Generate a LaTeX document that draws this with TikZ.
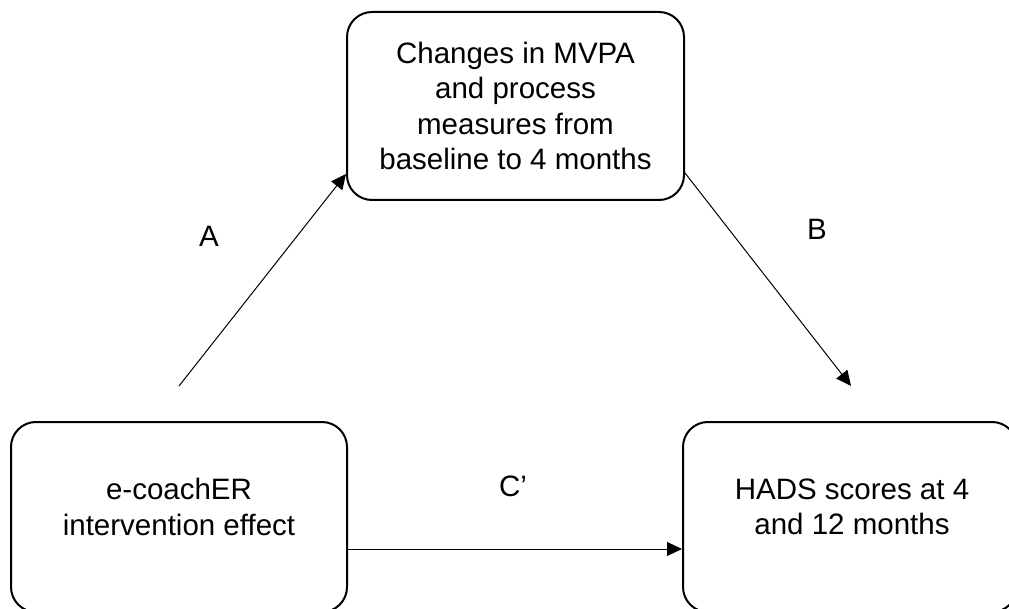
\documentclass[tikz,border=0pt]{standalone}
\usepackage{fontspec}
\setmainfont{Liberation Sans}
\usetikzlibrary{arrows.meta}

\begin{document}
\begin{tikzpicture}[x=1pt,y=-1pt,
    box/.style={draw,line width=2pt,rounded corners=25pt,
      minimum width=336pt,minimum height=190pt},
    boxtext/.style={align=center,font=\fontsize{29.5pt}{35.5pt}\selectfont},
    conn/.style={line width=1pt,-{Triangle[length=15pt,width=14pt]}},
    lab/.style={font=\fontsize{29.5pt}{35pt}\selectfont}]
        \useasboundingbox (0,0) rectangle (1009,609) ;
        %\draw[very thin,gray,step=50] (0,0) grid (1009,609) ;
        \node[box,boxtext,minimum width=337pt,minimum height=188pt] (change)
          at (515.5,106) {Changes in MVPA\\and process\\measures from\\baseline to 4 months} ;
        \node[box] (ecoach) at (179,517) {} ;
        \node[boxtext] (ecoachtext) at (179,507) {e-coachER\\intervention effect} ;
        \node[box,minimum width=334pt] (hads) at (850,517) {} ;
        \node[boxtext] (hadstext) at (852,507) {HADS scores at 4\\and 12 months} ;
        \coordinate (astart) at (179,386) ;
        \coordinate (bend) at (851,386) ;
        \draw[conn] (astart) -- ([yshift=27pt]change.south west) ;
        \draw[conn] ([yshift=28pt]change.south east) -- (bend) ;
        \draw[conn] ([yshift=-32pt]ecoach.east) -- ([yshift=-32pt]hads.west) ;
        \node[lab] (alab) at (209,236) {A} ;
        \node[lab] (blab) at (817,229) {B} ;
        \node[lab] (clab) at (513,486) {C’} ;
      \end{tikzpicture}
\end{document}
